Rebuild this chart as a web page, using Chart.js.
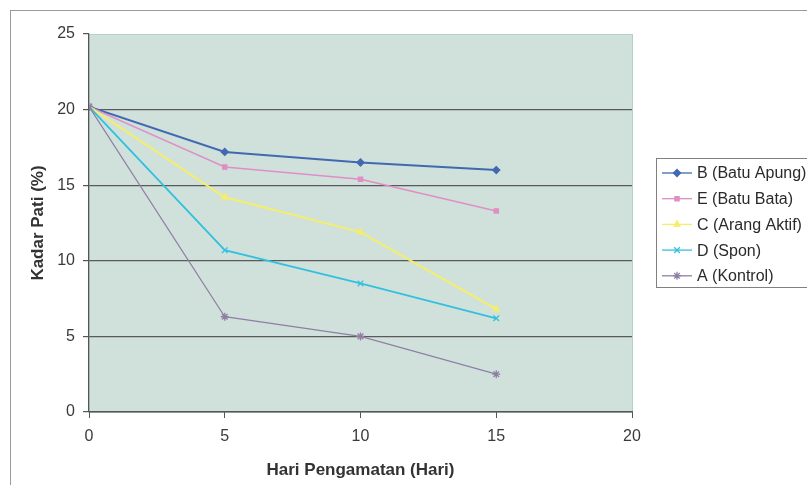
<!DOCTYPE html>
<html>
<head>
<meta charset="utf-8">
<script src="https://cdn.jsdelivr.net/npm/chart.js@4"></script>
<style>
  html, body { margin: 0; padding: 0; background: #fff; }
  #wrap { width: 807px; height: 485px; }
</style>
</head>
<body>
<div id="wrap"><canvas id="chart" width="807" height="485"></canvas></div>
<script>
// data
var days = [0, 5, 10, 15];
var xTicks = [0, 5, 10, 15, 20];
var yTicks = [0, 5, 10, 15, 20, 25];
var seriesNames = ['B (Batu Apung)', 'E (Batu Bata)', 'C (Arang Aktif)', 'D (Spon)', 'A (Kontrol)'];
var batuApung = [20.2, 17.2, 16.5, 16.0];
var batuBata = [20.2, 16.2, 15.4, 13.3];
var arangAktif = [20.2, 14.2, 11.9, 6.8];
var spon = [20.2, 10.7, 8.5, 6.2];
var kontrol = [20.2, 6.3, 5.0, 2.5];

var colors = ['#4169b1', '#e08ec6', '#f4ee6a', '#33c0de', '#8f80a3'];
var markers = ['rectRot', 'rect', 'triangle', 'crossRot', 'star'];
var markerSize = [3.5, 3, 3.5, 4, 4];
var lineW = [2, 1.5, 2, 1.8, 1.3];

function toPoints(vals) {
  return vals.map(function (v, i) { return { x: days[i], y: v }; });
}

var allSeries = [batuApung, batuBata, arangAktif, spon, kontrol];
var datasets = [];
for (var i = 0; i < allSeries.length; i++) {
  datasets.push({
    label: seriesNames[i],
    data: toPoints(allSeries[i]),
    borderColor: colors[i],
    backgroundColor: colors[i],
    borderWidth: lineW[i],
    pointStyle: markers[i],
    pointRadius: markerSize[i],
    pointBorderWidth: 1.3,
    tension: 0,
    order: 5 - i
  });
}

var FONT = "'Liberation Sans', Arial, sans-serif";

// plot background, outer frame and legend box
var decor = {
  id: 'decor',
  beforeDraw: function (chart) {
    var c = chart.ctx, a = chart.chartArea;
    c.save();
    c.fillStyle = '#fff';
    c.fillRect(0, 0, chart.width, chart.height);
    c.strokeStyle = '#9a9a9a';
    c.lineWidth = 1;
    c.strokeRect(10.5, 10.5, 830, 500);
    c.fillStyle = '#d0e1dc';
    c.fillRect(a.left, a.top, a.right - a.left, a.bottom - a.top);
    c.strokeStyle = '#b5cfca';
    c.strokeRect(a.left + 0.5, a.top + 0.5, a.right - a.left, a.bottom - a.top);
    c.restore();
  },
  afterDraw: function (chart) {
    var c = chart.ctx;
    c.save();
    c.strokeStyle = '#808080';
    c.lineWidth = 1;
    c.strokeRect(656.5, 158.5, 170, 129);
    c.font = '16px ' + FONT;
    c.textBaseline = 'middle';
    for (var i = 0; i < seriesNames.length; i++) {
      var y = 173 + i * 25.7;
      c.strokeStyle = colors[i];
      c.lineWidth = 1.3;
      c.beginPath();
      c.moveTo(662, y);
      c.lineTo(692, y);
      c.stroke();
      c.fillStyle = colors[i];
      Chart.helpers.drawPoint(c, {
        pointStyle: markers[i], radius: markerSize[i], rotation: 0, borderWidth: 1.3
      }, 677, y);
      c.fillStyle = '#2a2a2a';
      c.fillText(seriesNames[i], 697, y + 1);
    }
    c.restore();
  }
};

new Chart(document.getElementById('chart'), {
  type: 'line',
  data: { datasets: datasets },
  options: {
    responsive: false,
    animation: false,
    layout: { padding: { left: 24, right: 175, top: 34, bottom: 0 } },
    plugins: {
      legend: { display: false },
      tooltip: { enabled: false }
    },
    scales: {
      x: {
        type: 'linear',
        min: 0, max: 20,
        afterBuildTicks: function (s) { s.ticks = xTicks.map(function (v) { return { value: v }; }); },
        afterFit: function (s) { s.height = 73; },
        grid: { drawOnChartArea: false, drawTicks: true, tickLength: 6, color: '#555' },
        border: { color: '#555', width: 1.2 },
        ticks: { color: '#3a3a3a', font: { family: FONT, size: 16 }, padding: 9, maxRotation: 0 },
        title: { display: true, text: 'Hari Pengamatan (Hari)', color: '#333',
                 font: { family: FONT, size: 17, weight: 'bold' }, padding: { top: 0 } }
      },
      y: {
        min: 0, max: 25,
        afterBuildTicks: function (s) { s.ticks = yTicks.map(function (v) { return { value: v }; }); },
        afterFit: function (s) { s.width = 65; },
        grid: {
          color: function (ctx) {
            var v = ctx.tick ? ctx.tick.value : 0;
            return (v === 25) ? 'rgba(0,0,0,0)' : '#5a5a5a';
          },
          tickColor: '#555',
          lineWidth: 1.2,
          tickLength: 6
        },
        border: { color: '#555', width: 1.2 },
        ticks: { color: '#3a3a3a', font: { family: FONT, size: 16 }, padding: 8 },
        title: { display: true, text: 'Kadar Pati (%)', color: '#333',
                 font: { family: FONT, size: 17, weight: 'bold' }, padding: { bottom: 4 } }
      }
    }
  },
  plugins: [decor]
});
</script>
</body>
</html>
